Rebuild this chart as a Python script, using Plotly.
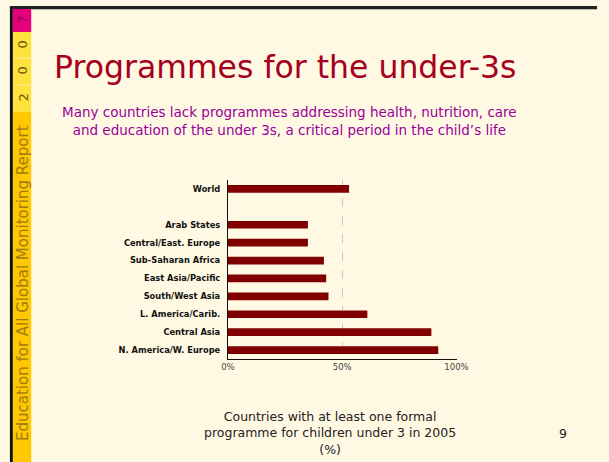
import plotly.graph_objects as go

categories = ["N. America/W. Europe", "Central Asia", "L. America/Carib.", "South/West Asia",
              "East Asia/Pacific", "Sub-Saharan Africa", "Central/East. Europe", "Arab States",
              " ", "World"]
values = [92, 89, 61, 44, 43, 42, 35, 35, None, 53]
tick_vals = [0, 50, 100]
tick_text = ["0%", "50%", "100%"]

W, H = 609, 462
def px(x):
    return x / W
def py(y):
    return 1 - y / H

fig = go.Figure()
fig.add_trace(go.Bar(
    x=values, y=categories, orientation="h",
    marker=dict(color="#800000", line=dict(width=0)),
    width=0.43, hoverinfo="skip",
))

shapes = []
# left strip backgrounds
shapes.append(dict(type="rect", xref="paper", yref="paper", x0=px(6), x1=px(25), y0=py(462), y1=py(112),
                   fillcolor="#FFC800", line=dict(width=0), layer="below"))
shapes.append(dict(type="rect", xref="paper", yref="paper", x0=px(6), x1=px(25), y0=py(112), y1=py(32),
                   fillcolor="#FFE23C", line=dict(width=0), layer="below"))
for yy in [58, 85]:
    shapes.append(dict(type="line", xref="paper", yref="paper", x0=px(6), x1=px(25), y0=py(yy), y1=py(yy),
                       line=dict(color="#FFF0A0", width=1), layer="below"))
shapes.append(dict(type="rect", xref="paper", yref="paper", x0=px(6), x1=px(25), y0=py(32), y1=py(8),
                   fillcolor="#E6007E", line=dict(width=0), layer="below"))
# black borders
shapes.append(dict(type="rect", xref="paper", yref="paper", x0=px(3), x1=px(6), y0=py(462), y1=py(6),
                   fillcolor="#111111", line=dict(width=0), layer="below"))
shapes.append(dict(type="rect", xref="paper", yref="paper", x0=px(3), x1=px(609), y0=py(9), y1=py(6),
                   fillcolor="#222222", line=dict(width=0), layer="below"))
shapes.append(dict(type="line", xref="paper", yref="paper", x0=px(25), x1=px(609), y0=py(9.5), y1=py(9.5),
                   line=dict(color="#BBBBAA", width=1), layer="below"))

annotations = []
for ch, yy, col in [("7", 20, "#9B0050"), ("0", 45, "#6E5A10"), ("0", 71, "#6E5A10"), ("2", 98, "#6E5A10")]:
    annotations.append(dict(text=ch, x=px(16), y=py(yy), xref="paper", yref="paper", showarrow=False,
                            textangle=-90, font=dict(family="DejaVu Sans", size=13, color=col),
                            xanchor="center", yanchor="middle"))
annotations.append(dict(text="Education for All Global Monitoring Report", x=px(16.5), y=py(283),
                        xref="paper", yref="paper", showarrow=False, textangle=-90,
                        font=dict(family="DejaVu Sans", size=15, color="#A07C10"),
                        xanchor="center", yanchor="middle"))
annotations.append(dict(text="Programmes for the under-3s", x=px(287), y=py(67), xref="paper", yref="paper",
                        showarrow=False, font=dict(family="DejaVu Sans", size=31.5, color="#A50021"),
                        xanchor="center", yanchor="middle"))
annotations.append(dict(text="Many countries lack programmes addressing health, nutrition, care<br>"
                             "and education of the under 3s, a critical period in the child\u2019s life",
                        x=px(292), y=py(121), xref="paper", yref="paper", showarrow=False,
                        font=dict(family="DejaVu Sans", size=13.5, color="#990099"),
                        xanchor="center", yanchor="middle", align="center"))
annotations.append(dict(text="Countries with at least one formal<br>programme for children under 3 in 2005<br>(%)",
                        x=px(333), y=py(433), xref="paper", yref="paper", showarrow=False,
                        font=dict(family="DejaVu Sans", size=12.5, color="#222222"),
                        xanchor="center", yanchor="middle", align="center"))
annotations.append(dict(text="9", x=px(574), y=py(433), xref="paper", yref="paper", showarrow=False,
                        font=dict(family="DejaVu Sans", size=12.5, color="#222222"),
                        xanchor="center", yanchor="middle"))

fig.update_layout(
    width=W, height=H,
    margin=dict(l=0, r=0, t=0, b=0),
    paper_bgcolor="#FFF9E3",
    plot_bgcolor="#FFF9E3",
    showlegend=False,
    shapes=shapes,
    annotations=annotations,
    xaxis=dict(domain=[px(228), px(464)], range=[0, 100], tickvals=tick_vals, ticktext=tick_text,
               showgrid=True, gridcolor="#C8C8C8", griddash="dash", gridwidth=1,
               showline=True, linecolor="#111111", linewidth=1, zeroline=False,
               ticks="", tickfont=dict(family="DejaVu Sans", size=8.5, color="#444444"), fixedrange=True),
    yaxis=dict(domain=[py(359), py(180)], type="category", categoryorder="array", categoryarray=categories,
               range=[-0.5, 9.5], showgrid=False, showline=True, linecolor="#111111", linewidth=1,
               ticks="", ticklabelstandoff=5,
               tickfont=dict(family="DejaVu Sans", size=8.3, color="#111111", weight="bold"), fixedrange=True),
)

fig.write_html("out.html")
